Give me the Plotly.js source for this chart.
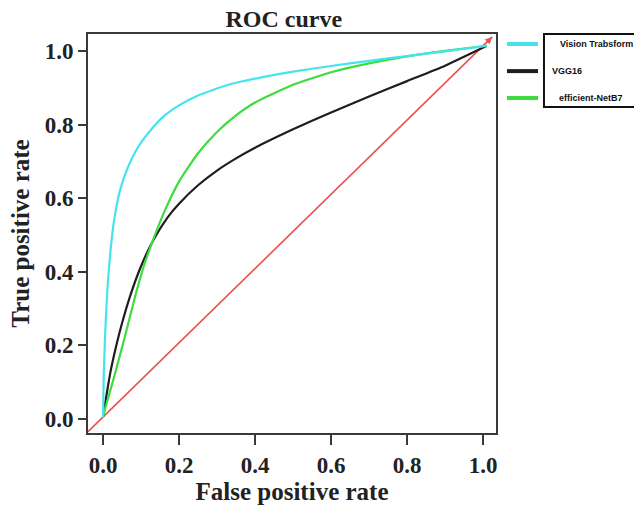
<!DOCTYPE html>
<html>
<head>
<meta charset="utf-8">
<script src="https://cdn.plot.ly/plotly-3.0.1.min.js"></script>
<style>html,body{margin:0;padding:0;background:#fff;}#chart{width:634px;height:509px;}</style>
</head>
<body>
<div id="chart"></div>
<script>
// ---- data ----
const vitFpr = [0, 0.002, 0.006, 0.012, 0.02, 0.03, 0.045, 0.065, 0.09, 0.12, 0.155, 0.2, 0.25, 0.33, 0.42, 0.5, 0.6, 0.7, 0.8, 0.9, 1.01];
const vitTpr = [0.005, 0.12, 0.24, 0.36, 0.46, 0.545, 0.622, 0.683, 0.735, 0.778, 0.818, 0.852, 0.879, 0.908, 0.929, 0.944, 0.959, 0.973, 0.986, 0.999, 1.014];

const vggFpr = [0, 0.01, 0.02, 0.035, 0.05, 0.07, 0.1, 0.133, 0.17, 0.2, 0.25, 0.3, 0.35, 0.4, 0.5, 0.6, 0.7, 0.8, 0.9, 1.01];
const vggTpr = [0.005, 0.07, 0.13, 0.2, 0.26, 0.33, 0.415, 0.487, 0.548, 0.585, 0.635, 0.675, 0.708, 0.737, 0.787, 0.833, 0.876, 0.918, 0.96, 1.014];

const effFpr = [0, 0.01, 0.027, 0.045, 0.062, 0.085, 0.11, 0.133, 0.16, 0.2, 0.25, 0.3, 0.35, 0.4, 0.5, 0.6, 0.7, 0.8, 0.9, 1.01];
const effTpr = [0.005, 0.045, 0.106, 0.175, 0.242, 0.335, 0.424, 0.49, 0.56, 0.645, 0.722, 0.78, 0.825, 0.86, 0.908, 0.942, 0.966, 0.985, 1.0, 1.014];

const chanceFpr = [-0.04, 1.024];
const chanceTpr = [-0.035, 1.038];

const seriesNames = ["Vision Trabsform", "VGG16", "efficient-NetB7"];
const tickVals = [0, 0.2, 0.4, 0.6, 0.8, 1.0];
const tickText = ["0.0", "0.2", "0.4", "0.6", "0.8", "1.0"];

// ---- styles ----
const colors = ["#45e3ee", "#1e1e1e", "#3edc3e"];
const red = "#e8524f";
const serif = "Liberation Serif, Times New Roman, serif";
const sans = "Liberation Sans, Arial, sans-serif";

const curveLine = (c) => ({color: c, width: 2.2, shape: "spline", smoothing: 0.5});

const traces = [
  {x: chanceFpr, y: chanceTpr, mode: "lines", line: {color: red, width: 1.6}, showlegend: false, hoverinfo: "skip"},
  {x: vggFpr, y: vggTpr, name: seriesNames[1], mode: "lines", line: curveLine(colors[1]), showlegend: false},
  {x: effFpr, y: effTpr, name: seriesNames[2], mode: "lines", line: curveLine(colors[2]), showlegend: false},
  {x: vitFpr, y: vitTpr, name: seriesNames[0], mode: "lines", line: curveLine(colors[0]), showlegend: false}
];

// legend (custom, box only around text)
const legY = [0.975, 0.907, 0.8396];
const legTextX = [1.152, 1.132, 1.15];
const shapes = [
  {type: "rect", xref: "paper", yref: "paper", x0: 1.1176, x1: 1.36, y0: 0.817, y1: 1.0, line: {color: "#111", width: 2}, fillcolor: "rgba(0,0,0,0)"}
];
const annotations = [];
for (let i = 0; i < 3; i++) {
  shapes.push({type: "line", xref: "paper", yref: "paper", x0: 1.027, x1: 1.103, y0: legY[i], y1: legY[i], line: {color: colors[i], width: 4}});
  annotations.push({xref: "paper", yref: "paper", x: legTextX[i], y: legY[i], xanchor: "left", yanchor: "middle", text: "<b>" + seriesNames[i] + "</b>", showarrow: false, font: {family: sans, size: 9, color: "#111"}});
}
// small arrow tip of diagonal
annotations.push({x: chanceFpr[1], y: chanceTpr[1], xref: "x", yref: "y", text: "", showarrow: true, arrowhead: 2, arrowsize: 1, arrowwidth: 1.4, arrowcolor: red, ax: -7, ay: 7});

const axisCommon = {
  showline: true, linecolor: "#3a3a3a", linewidth: 2, mirror: true,
  showgrid: false, zeroline: false,
  ticks: "outside", tickcolor: "#3a3a3a", tickwidth: 2,
  tickvals: tickVals, ticktext: tickText,
  tickfont: {family: serif, size: 23, color: "#222", weight: "bold"}
};

const layout = {
  width: 634, height: 509,
  margin: {l: 88, r: 138, t: 34, b: 76},
  paper_bgcolor: "#fff", plot_bgcolor: "#fff",
  title: {text: "<b>ROC curve</b>", x: 0.48, xref: "paper", y: 0.964, yref: "container", yanchor: "middle", xanchor: "center", font: {family: serif, size: 24, color: "#222"}},
  xaxis: Object.assign({}, axisCommon, {range: [-0.0395, 1.034], ticklen: 10,
    title: {text: "<b>False positive rate</b>", standoff: 6, font: {family: serif, size: 25, color: "#222"}}}),
  yaxis: Object.assign({}, axisCommon, {range: [-0.038, 1.046], ticklen: 8,
    title: {text: "<b>True positive rate</b>", standoff: 8, font: {family: serif, size: 25, color: "#222"}}}),
  shapes: shapes,
  annotations: annotations,
  showlegend: false
};

Plotly.newPlot("chart", traces, layout, {displayModeBar: false, staticPlot: true});
</script>
</body>
</html>
